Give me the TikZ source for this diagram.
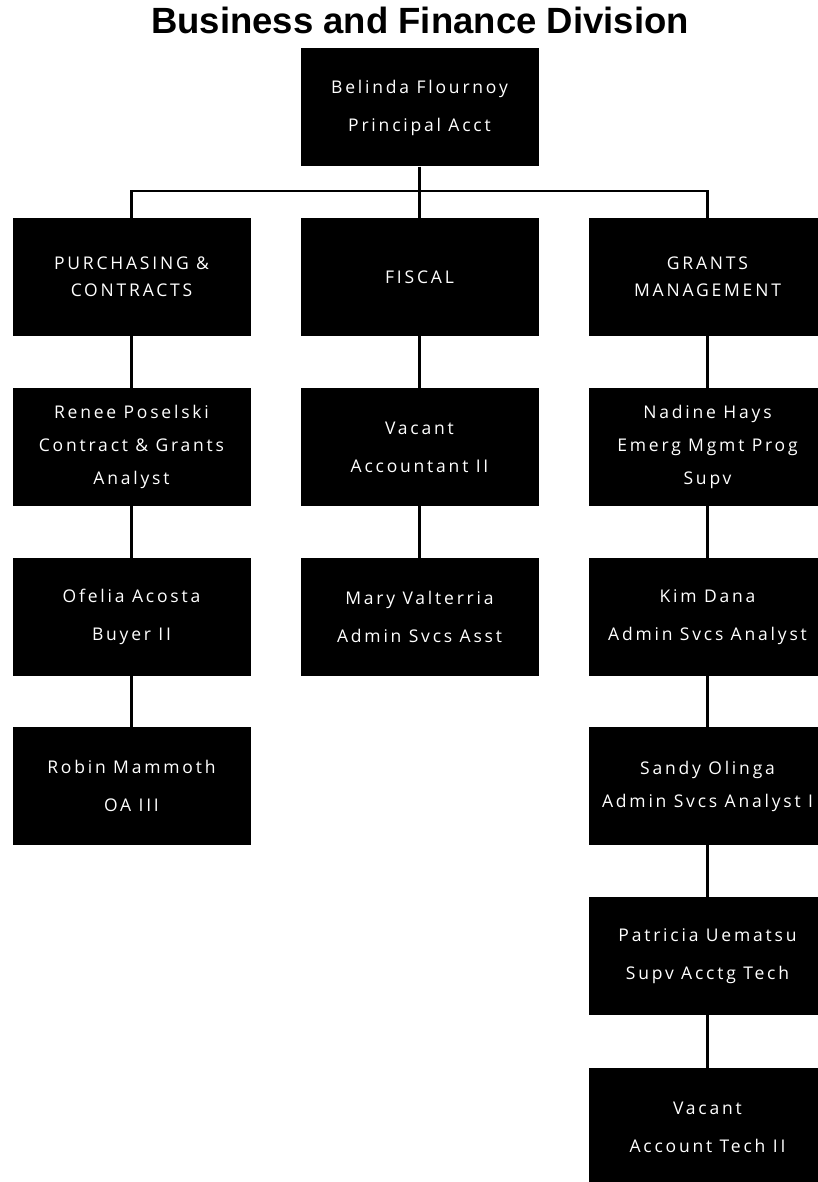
\documentclass[tikz,border=0pt]{standalone}
\usepackage{fontspec}
\setmainfont{Liberation Sans}
\newfontfamily\boxfont[LetterSpace=16]{Open Sans}
\newfontfamily\titlefont{Liberation Sans}
\begin{document}
\begin{tikzpicture}[x=1pt,y=-1pt,
  orgbox/.style={fill=black, draw=none, minimum width=238pt, minimum height=118pt,
    inner sep=0pt, text=white, align=center, font=\boxfont\fontsize{17.5}{38}\selectfont},
  threeline/.style={font=\boxfont\fontsize{17.5}{33}\selectfont},
  headline/.style={font=\boxfont\fontsize{17.5}{27}\selectfont},
  link/.style={draw=black, line width=2.4pt}]
\useasboundingbox (0,0) rectangle (817,1182);
\node[font=\titlefont\bfseries\fontsize{36.5}{38}\selectfont, anchor=base] (title) at (420,34) {Business and Finance Division};

\node[orgbox] (top) at (419.5,107.5) {Belinda Flournoy\\Principal Acct};

\node[orgbox, headline] (pc) at (131.5,277) {PURCHASING \&\\CONTRACTS};
\node[orgbox] (fi) at (419.5,277) {FISCAL};
\node[orgbox, headline] (gm) at (707.5,277) {GRANTS\\MANAGEMENT};

\node[orgbox, threeline] (rp) at (131.5,447) {Renee Poselski\\Contract \& Grants\\Analyst};
\node[orgbox] (oa) at (131.5,617) {Ofelia Acosta\\Buyer II};
\node[orgbox] (rm) at (131.5,786) {Robin Mammoth\\OA III};

\node[orgbox] (va) at (419.5,447) {Vacant\\Accountant II};
\node[orgbox] (mv) at (419.5,617) {Mary Valterria\\Admin Svcs Asst};

\node[orgbox, threeline] (nh) at (707.5,447) {Nadine Hays\\Emerg Mgmt Prog\\Supv};
\node[orgbox] (kd) at (707.5,617) {Kim Dana\\Admin Svcs Analyst};
\node[orgbox, threeline] (so) at (707.5,786) {Sandy Olinga\\Admin Svcs Analyst I};
\node[orgbox] (pu) at (707.5,956) {Patricia Uematsu\\Supv Acctg Tech};
\node[orgbox] (vt) at (707.5,1127) {Vacant\\Account Tech II};

\coordinate (bus) at (419.5,191);
\draw[link] (top.south) -- (fi.north);
\draw[link] (pc.north) |- (bus) -| (gm.north);

\draw[link] (pc.south) -- (rp.north);
\draw[link] (rp.south) -- (oa.north);
\draw[link] (oa.south) -- (rm.north);
\draw[link] (fi.south) -- (va.north);
\draw[link] (va.south) -- (mv.north);
\draw[link] (gm.south) -- (nh.north);
\draw[link] (nh.south) -- (kd.north);
\draw[link] (kd.south) -- (so.north);
\draw[link] (so.south) -- (pu.north);
\draw[link] (pu.south) -- (vt.north);
\end{tikzpicture}
\end{document}
